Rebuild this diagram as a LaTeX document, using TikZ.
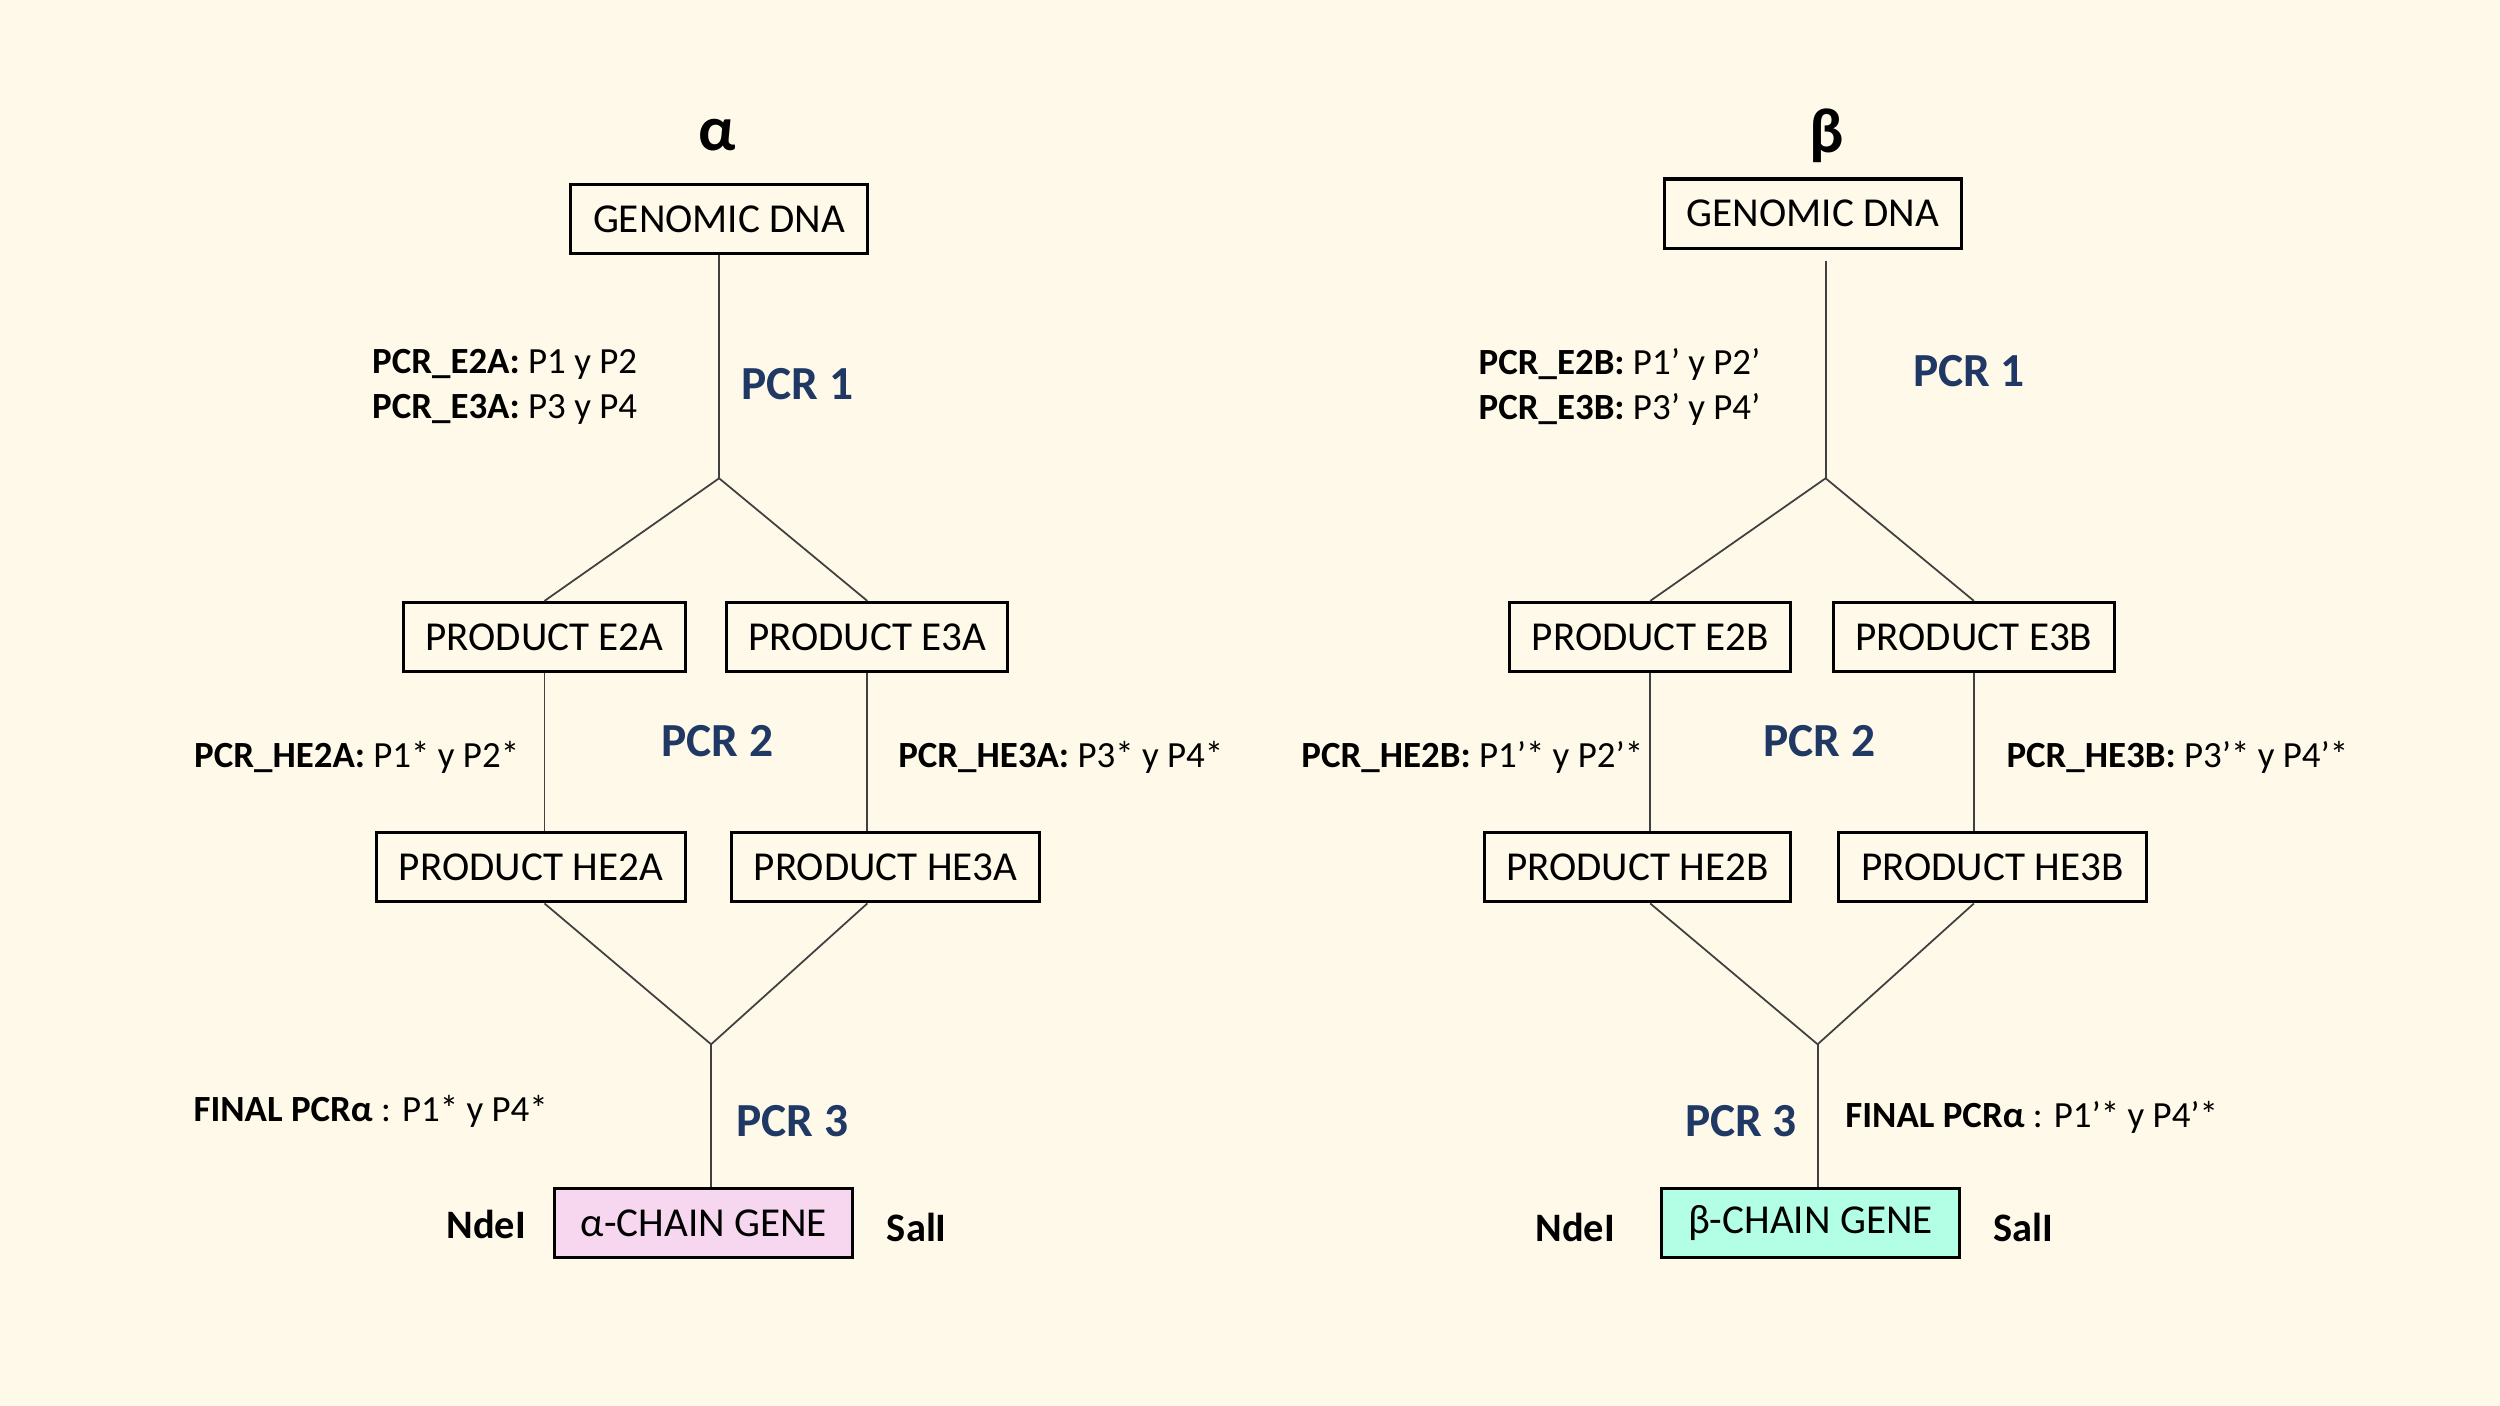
\documentclass[tikz,border=0pt]{standalone}
\usepackage{fontspec}
\setmainfont{Carlito}
\usepackage{xcolor}
\definecolor{pcrnavy}{HTML}{1F3864}
\definecolor{creambg}{HTML}{FEF9E9}
\definecolor{alphapink}{HTML}{F7D6F0}
\definecolor{betamint}{HTML}{B3FFE6}
\usepackage{tikz}
\usetikzlibrary{positioning,calc}

\begin{document}
\begin{tikzpicture}[
    prodbox/.style={draw=black,line width=0.9pt,inner sep=0pt,
      minimum height=0.69cm,font=\fontsize{11.7}{14}\selectfont},
    link/.style={draw=black!75,line width=0.5pt},
    pcrtag/.style={text=pcrnavy,font=\fontsize{13.5}{16}\selectfont\bfseries},
    primer/.style={font=\fontsize{10.5}{12.7}\selectfont,align=left,inner sep=0pt},
    site/.style={font=\fontsize{11.5}{14}\selectfont\bfseries},
    chain/.style={font=\fontsize{18}{20}\selectfont\bfseries}]
  % Background
  \fill[creambg] (0,0) rectangle (25,14.06);
  \useasboundingbox (0,0) rectangle (25,14.06);

  % ---------- alpha chain ----------
  \node[chain] (alphaT) at (7.175,12.705) {α};
  \node[prodbox,minimum width=2.97cm] (gdnaA) at (7.191,11.868) {GENOMIC DNA};
  \coordinate (splitA) at (7.191,9.277);
  \node[prodbox,minimum width=2.82cm] (e2a) at (5.445,7.690) {PRODUCT E2A};
  \node[prodbox,minimum width=2.81cm] (e3a) at (8.673,7.690) {PRODUCT E3A};
  \node[prodbox,minimum width=3.09cm] (he2a) at (5.309,5.386) {PRODUCT HE2A};
  \node[prodbox,minimum width=3.08cm] (he3a) at (8.857,5.386) {PRODUCT HE3A};
  \coordinate (joinA) at (7.111,3.617);
  \node[prodbox,fill=alphapink,minimum width=2.98cm] (geneA) at (7.039,1.831) {α-CHAIN GENE};
  \node[site] (ndeA) at (4.863,1.815) {NdeI};
  \node[site] (salA) at (9.168,1.783) {SalI};
  % connectors
  \draw[link] (gdnaA.south -| splitA) -- (splitA);
  \draw[link] (splitA) -- (e2a.north);
  \draw[link] (splitA) -- (e3a.north);
  \draw[link] (e2a.south) -- (e2a.south |- he2a.north);
  \draw[link] (e3a.south) -- (e3a.south |- he3a.north);
  \draw[link] (e2a.south |- he2a.south) -- (joinA);
  \draw[link] (e3a.south |- he3a.south) -- (joinA);
  \draw[link] (joinA) -- (joinA |- geneA.north);
  % labels
  \node[pcrtag] (pcr1A) at (7.972,10.218) {PCR 1};
  \node[pcrtag] (pcr2A) at (7.175,6.646) {PCR 2};
  \node[pcrtag] (pcr3A) at (7.924,2.851) {PCR 3};
  \node[primer,anchor=west] (prE2A) at (3.715,10.19)
    {\textbf{PCR\_E2A:} P1 y P2\\\textbf{PCR\_E3A:} P3 y P4};
  \node[primer,anchor=east] (prHE2A) at (5.198,6.487) {\textbf{PCR\_HE2A:} P1* y P2*};
  \node[primer,anchor=west] (prHE3A) at (8.976,6.487) {\textbf{PCR\_HE3A:} P3* y P4*};
  \node[primer,anchor=west] (finA) at (1.929,2.947) {\textbf{FINAL PCRα} : P1* y P4*};

  % ---------- beta chain ----------
  \node[chain] (betaT) at (18.272,12.705) {β};
  \node[prodbox,minimum width=2.97cm] (gdnaB) at (18.128,11.924) {GENOMIC DNA};
  \coordinate (splitB) at (18.256,9.277);
  \node[prodbox,minimum width=2.81cm] (e2b) at (16.502,7.690) {PRODUCT E2B};
  \node[prodbox,minimum width=2.81cm] (e3b) at (19.739,7.690) {PRODUCT E3B};
  \node[prodbox,minimum width=3.06cm] (he2b) at (16.374,5.386) {PRODUCT HE2B};
  \node[prodbox,minimum width=3.08cm] (he3b) at (19.922,5.386) {PRODUCT HE3B};
  \coordinate (joinB) at (18.176,3.617);
  \node[prodbox,fill=betamint,minimum width=2.98cm] (geneB) at (18.104,1.831) {β-CHAIN GENE};
  \node[site] (ndeB) at (15.753,1.783) {NdeI};
  \node[site] (salB) at (20.233,1.783) {SalI};
  % connectors
  \draw[link,shorten <=0.11cm] (gdnaB.south -| splitB) -- (splitB);
  \draw[link] (splitB) -- (e2b.north);
  \draw[link] (splitB) -- (e3b.north);
  \draw[link] (e2b.south) -- (e2b.south |- he2b.north);
  \draw[link] (e3b.south) -- (e3b.south |- he3b.north);
  \draw[link] (e2b.south |- he2b.south) -- (joinB);
  \draw[link] (e3b.south |- he3b.south) -- (joinB);
  \draw[link] (joinB) -- (joinB |- geneB.north);
  % labels
  \node[pcrtag] (pcr1B) at (19.691,10.345) {PCR 1};
  \node[pcrtag] (pcr2B) at (18.192,6.646) {PCR 2};
  \node[pcrtag] (pcr3B) at (17.411,2.851) {PCR 3};
  \node[primer,anchor=west] (prE2B) at (14.780,10.19)
    {\textbf{PCR\_E2B:} P1’ y P2’\\\textbf{PCR\_E3B:} P3’ y P4’};
  \node[primer,anchor=east] (prHE2B) at (16.438,6.487) {\textbf{PCR\_HE2B:} P1’* y P2’*};
  \node[primer,anchor=west] (prHE3B) at (20.058,6.487) {\textbf{PCR\_HE3B:} P3’* y P4’*};
  \node[primer,anchor=west] (finB) at (18.447,2.883) {\textbf{FINAL PCRα} : P1’* y P4’*};
\end{tikzpicture}
\end{document}
